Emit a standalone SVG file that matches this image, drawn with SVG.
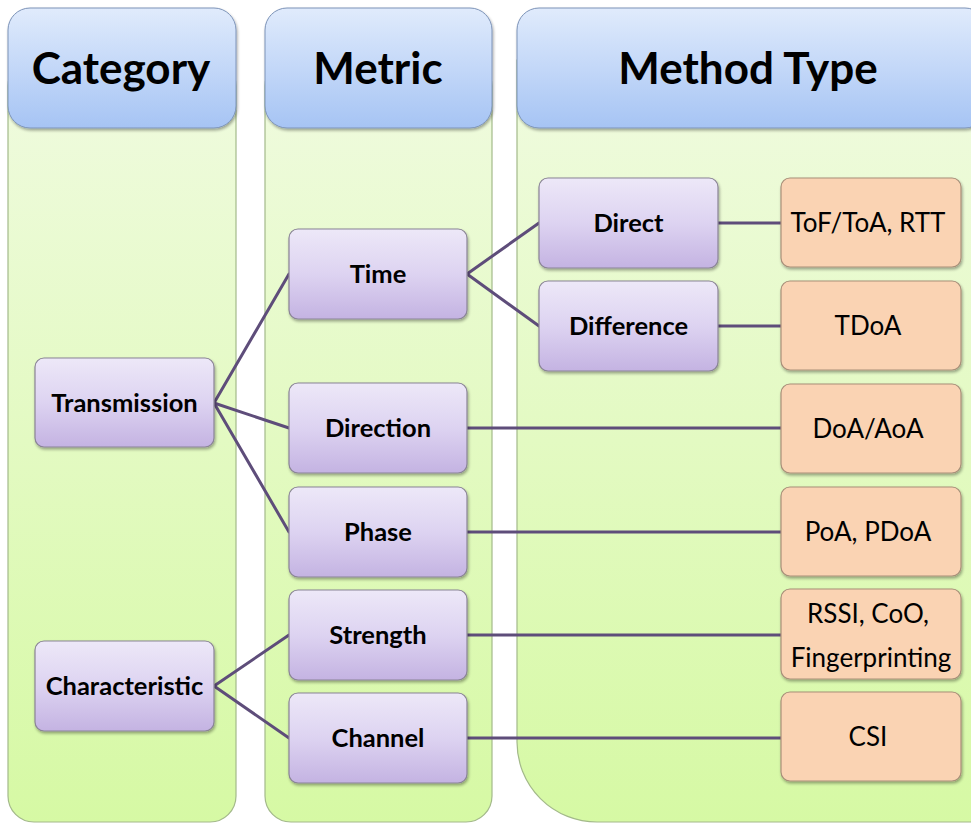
<svg xmlns="http://www.w3.org/2000/svg" width="971" height="825" viewBox="0 0 971 825">
  <defs>
    <linearGradient id="gHead" x1="0" y1="0" x2="0" y2="1">
      <stop offset="0" stop-color="#e0ebfc"/>
      <stop offset="1" stop-color="#a6c4f4"/>
    </linearGradient>
    <linearGradient id="gBody" x1="0" y1="0" x2="0" y2="1">
      <stop offset="0" stop-color="#f0fbe0"/>
      <stop offset="1" stop-color="#d6f9a4"/>
    </linearGradient>
    <linearGradient id="gNode" x1="0" y1="0" x2="0" y2="1">
      <stop offset="0" stop-color="#ede8f8"/>
      <stop offset="0.5" stop-color="#ddd3f1"/>
      <stop offset="1" stop-color="#c4b3e2"/>
    </linearGradient>
    <filter id="shadow" x="-10%" y="-10%" width="125%" height="130%">
      <feGaussianBlur in="SourceAlpha" stdDeviation="1.5"/>
      <feOffset dx="1" dy="2" result="b"/>
      <feComponentTransfer><feFuncA type="linear" slope="0.35"/></feComponentTransfer>
      <feMerge><feMergeNode/><feMergeNode in="SourceGraphic"/></feMerge>
    </filter>
  </defs>
  <style>
    .body { fill: url(#gBody); stroke: #a3b98a; stroke-width: 1.2; }
    .head { fill: url(#gHead); stroke: #7c93b8; stroke-width: 1; filter: url(#shadow); }
    .ht { font-family: Lato, "Open Sans", sans-serif; font-weight: bold; font-size: 44px; fill: #000; text-anchor: middle; }
    .node { fill: url(#gNode); stroke: #8a8496; stroke-width: 1.2; filter: url(#shadow); }
    .leaf { fill: #fad3b3; stroke: #a88f79; stroke-width: 1.2; filter: url(#shadow); }
    .nt { font-family: Lato, "Open Sans", sans-serif; font-weight: bold; font-size: 25.5px; fill: #000; text-anchor: middle; }
    .lt { font-family: Lato, "Open Sans", sans-serif; font-size: 26px; fill: #000; text-anchor: middle; }
    .conn { stroke: #5e4d7a; stroke-width: 3; fill: none; stroke-linecap: round; }
  </style>

  <rect width="971" height="825" fill="#ffffff"/>

  <!-- column backgrounds -->
  <g id="col-category">
    <rect class="body" x="8" y="60" width="228" height="762" rx="26"/>
    <rect class="head" x="8" y="8" width="228" height="120" rx="22"/>
    <text class="ht" x="121" y="84">Category</text>
  </g>
  <g id="col-metric">
    <rect class="body" x="265" y="60" width="227" height="762" rx="26"/>
    <rect class="head" x="265" y="8" width="227" height="120" rx="22"/>
    <text class="ht" x="378" y="84">Metric</text>
  </g>
  <g id="col-method">
    <path class="body" d="M517,60 H985 V822 H597 A80,80 0 0 1 517,742 Z"/>
    <rect class="head" x="517" y="8" width="470" height="120" rx="22"/>
    <text class="ht" x="748" y="84">Method Type</text>
  </g>

  <!-- connectors -->
  <g id="connectors">
    <path class="conn" d="M214,403 L289,274"/>
    <path class="conn" d="M214,403 L289,428"/>
    <path class="conn" d="M214,403 L289,532"/>
    <path class="conn" d="M214,686 L289,635"/>
    <path class="conn" d="M214,686 L289,738"/>
    <path class="conn" d="M467,274 L539,223"/>
    <path class="conn" d="M467,274 L539,326"/>
    <path class="conn" d="M718,223 L781,223"/>
    <path class="conn" d="M718,326 L781,326"/>
    <path class="conn" d="M467,428 L781,428"/>
    <path class="conn" d="M467,532 L781,532"/>
    <path class="conn" d="M467,635 L781,635"/>
    <path class="conn" d="M467,738 L781,738"/>
  </g>

  <!-- category nodes -->
  <g id="n-transmission">
    <rect class="node" x="35" y="358" width="179" height="89" rx="9"/>
    <text class="nt" x="124.5" y="412">Transmission</text>
  </g>
  <g id="n-characteristic">
    <rect class="node" x="35" y="641" width="179" height="90" rx="9"/>
    <text class="nt" x="124.5" y="695">Characteristic</text>
  </g>

  <!-- metric nodes -->
  <g id="n-time">
    <rect class="node" x="289" y="229" width="178" height="90" rx="9"/>
    <text class="nt" x="378" y="283">Time</text>
  </g>
  <g id="n-direction">
    <rect class="node" x="289" y="383" width="178" height="90" rx="9"/>
    <text class="nt" x="378" y="437">Direction</text>
  </g>
  <g id="n-phase">
    <rect class="node" x="289" y="487" width="178" height="90" rx="9"/>
    <text class="nt" x="378" y="541">Phase</text>
  </g>
  <g id="n-strength">
    <rect class="node" x="289" y="590" width="178" height="90" rx="9"/>
    <text class="nt" x="378" y="644">Strength</text>
  </g>
  <g id="n-channel">
    <rect class="node" x="289" y="693" width="178" height="90" rx="9"/>
    <text class="nt" x="378" y="747">Channel</text>
  </g>

  <!-- time sub-types -->
  <g id="n-direct">
    <rect class="node" x="539" y="178" width="179" height="90" rx="9"/>
    <text class="nt" x="628.5" y="232">Direct</text>
  </g>
  <g id="n-difference">
    <rect class="node" x="539" y="281" width="179" height="90" rx="9"/>
    <text class="nt" x="628.5" y="335">Difference</text>
  </g>

  <!-- methods -->
  <g id="m-tof">
    <rect class="leaf" x="781" y="178" width="180" height="89" rx="9"/>
    <text class="lt" x="868" y="232">ToF/ToA, RTT</text>
  </g>
  <g id="m-tdoa">
    <rect class="leaf" x="781" y="281" width="180" height="89" rx="9"/>
    <text class="lt" x="868" y="335">TDoA</text>
  </g>
  <g id="m-doa">
    <rect class="leaf" x="781" y="384" width="180" height="89" rx="9"/>
    <text class="lt" x="868" y="438">DoA/AoA</text>
  </g>
  <g id="m-poa">
    <rect class="leaf" x="781" y="487" width="180" height="89" rx="9"/>
    <text class="lt" x="868" y="541">PoA, PDoA</text>
  </g>
  <g id="m-rssi">
    <rect class="leaf" x="781" y="589" width="180" height="90" rx="9"/>
    <text class="lt" x="868" y="623">RSSI, CoO,</text>
    <text class="lt" x="871" y="667">Fingerprinting</text>
  </g>
  <g id="m-csi">
    <rect class="leaf" x="781" y="692" width="180" height="89" rx="9"/>
    <text class="lt" x="868" y="746">CSI</text>
  </g>
</svg>
